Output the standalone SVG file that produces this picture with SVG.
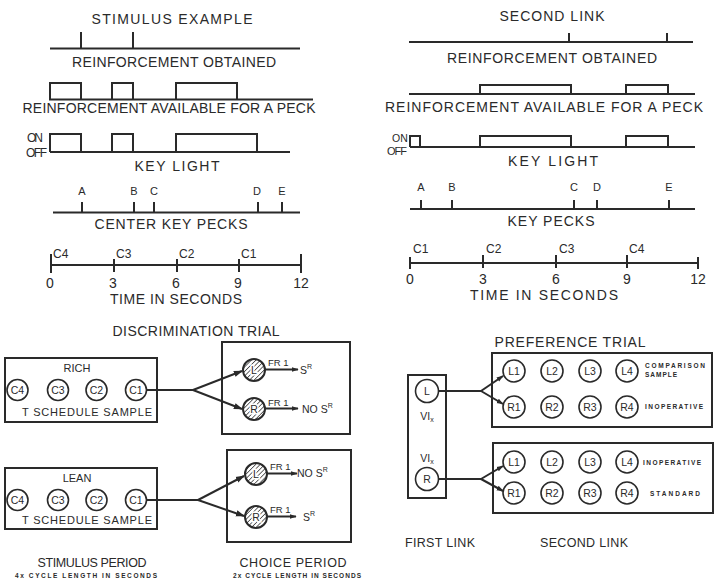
<svg xmlns="http://www.w3.org/2000/svg" width="714" height="582" viewBox="0 0 714 582">
<style>
text{font-family:"Liberation Sans","DejaVu Sans",sans-serif;fill:#2a2a2a}
.t{font-size:14px;text-anchor:middle}
.b{font-size:12.5px;text-anchor:middle}
.s{font-size:11px;text-anchor:middle}
.c{font-size:10.5px;text-anchor:middle}
.tiny{font-size:6.5px;font-weight:bold}
.ln{stroke:#2a2a2a;stroke-width:2;fill:none}
.cir{stroke:#2a2a2a;stroke-width:1.6;fill:#fff}
.hc{stroke:#2a2a2a;stroke-width:2;fill:url(#hatch)}
.halo{stroke:#fff;stroke-width:3;paint-order:stroke}
</style>
<defs>
<pattern id="hatch" patternUnits="userSpaceOnUse" width="3.2" height="3.2" patternTransform="rotate(45)">
<rect width="3.2" height="3.2" fill="#fff"/>
<line x1="0" y1="0" x2="0" y2="3.2" stroke="#3a3a3a" stroke-width="1.5"/>
</pattern>
<marker id="ah" viewBox="0 0 10 10" refX="9" refY="5" markerWidth="7" markerHeight="7" orient="auto" markerUnits="userSpaceOnUse">
<path d="M0,1.5 L10,5 L0,8.5 Z" fill="#2a2a2a"/>
</marker>
<marker id="ah2" viewBox="0 0 10 10" refX="9" refY="5" markerWidth="9" markerHeight="9" orient="auto" markerUnits="userSpaceOnUse">
<path d="M0,1.5 L10,5 L0,8.5 Z" fill="#2a2a2a"/>
</marker>
</defs>
<rect width="714" height="582" fill="#fff"/>

<!-- ===== Stimulus example (left timing) ===== -->
<g id="stimulus-example">
<text class="t" x="172" y="24" textLength="161">STIMULUS EXAMPLE</text>
<path class="ln" d="M50,48.5 H300 M81,48.5 V32 M133,48.5 V32"/>
<text class="t" x="174" y="67" textLength="204">REINFORCEMENT OBTAINED</text>
<path class="ln" d="M49,99.5 H313 M50,99.5 V83 H81 V99.5 M112,99.5 V83 H133 V99.5 M176,99.5 V83 H237 V99.5"/>
<text class="t" x="169" y="113" textLength="293">REINFORCEMENT AVAILABLE FOR A PECK</text>
<text x="27" y="142" font-size="12" textLength="16">ON</text>
<text x="26" y="157" font-size="12" textLength="21">OFF</text>
<path class="ln" d="M50,152 H290 M50,152 V134 H81 V152 M112,152 V134 H133 V152 M176,152 V134 H257 V152"/>
<text class="t" x="177" y="171" textLength="85">KEY LIGHT</text>
<path class="ln" d="M53,212.5 H300 M82,212.5 V202 M134,212.5 V202 M154,212.5 V202 M258,212.5 V202 M282,212.5 V202"/>
<text class="s" x="82" y="195" font-size="12">A</text>
<text class="s" x="134" y="195" font-size="12">B</text>
<text class="s" x="154" y="195" font-size="12">C</text>
<text class="s" x="257" y="195" font-size="12">D</text>
<text class="s" x="282" y="195" font-size="12">E</text>
<text class="t" x="171" y="229" textLength="153">CENTER KEY PECKS</text>
<path class="ln" d="M51,265 H301 M51,254 V273 M114,259 V272 M177,259 V272 M239,259 V272 M301,254 V273"/>
<text x="53" y="258" font-size="12">C4</text>
<text x="116" y="258" font-size="12">C3</text>
<text x="179" y="258" font-size="12">C2</text>
<text x="241" y="258" font-size="12">C1</text>
<text class="t" x="50" y="288">0</text>
<text class="t" x="113" y="288">3</text>
<text class="t" x="176" y="288">6</text>
<text class="t" x="238" y="288">9</text>
<text class="t" x="301" y="288">12</text>
<text class="t" x="176" y="304" textLength="132">TIME IN SECONDS</text>
</g>

<!-- ===== Second link (right timing) ===== -->
<g id="second-link-example">
<text class="t" x="552" y="21" textLength="105">SECOND LINK</text>
<path class="ln" d="M409,42 H693 M569,42 V33 M667,42 V33"/>
<text class="t" x="552" y="63" textLength="210">REINFORCEMENT OBTAINED</text>
<path class="ln" d="M409,94 H695 M480,94 V85 H571 V94 M626,94 V85 H668 V94"/>
<text class="t" x="544" y="112" textLength="318">REINFORCEMENT AVAILABLE FOR A PECK</text>
<text x="392" y="142" font-size="10.5">ON</text>
<text x="387" y="155" font-size="11" textLength="20">OFF</text>
<path class="ln" d="M410,147 H695 M410,147 V136 H420 V147 M480,147 V136 H571 V147 M626,147 V136 H668 V147"/>
<text class="t" x="553" y="166" textLength="90">KEY LIGHT</text>
<path class="ln" d="M410,209 H695 M421,209 V200 M452,209 V200 M574,209 V200 M597,209 V200 M669,209 V200"/>
<text class="s" x="421" y="191" font-size="12">A</text>
<text class="s" x="452" y="191" font-size="12">B</text>
<text class="s" x="574" y="191" font-size="12">C</text>
<text class="s" x="597" y="191" font-size="12">D</text>
<text class="s" x="669" y="191" font-size="12">E</text>
<text class="t" x="551" y="226" textLength="87">KEY PECKS</text>
<path class="ln" d="M410,263 H698 M410,257 V269 M483,255 V268 M556,255 V268 M627,255 V268 M698,257 V269"/>
<text x="413" y="253" font-size="12">C1</text>
<text x="486" y="253" font-size="12">C2</text>
<text x="559" y="253" font-size="12">C3</text>
<text x="629" y="253" font-size="12">C4</text>
<text class="t" x="410" y="284">0</text>
<text class="t" x="483" y="284">3</text>
<text class="t" x="556" y="284">6</text>
<text class="t" x="627" y="284">9</text>
<text class="t" x="698" y="284">12</text>
<text class="t" x="544" y="300" textLength="148">TIME IN SECONDS</text>
</g>

<!-- ===== Discrimination trial ===== -->
<text class="t" x="196" y="336" textLength="167">DISCRIMINATION TRIAL</text>

<g id="rich-stimulus">
<rect class="ln" x="5" y="358" width="152" height="64"/>
<text class="s" x="77" y="372">RICH</text>
<circle class="cir" cx="17.5" cy="390" r="10.5"/><text class="c" x="17.5" y="394">C4</text>
<circle class="cir" cx="58" cy="390" r="10.5"/><text class="c" x="58" y="394">C3</text>
<circle class="cir" cx="96.5" cy="390" r="10.5"/><text class="c" x="96.5" y="394">C2</text>
<circle class="cir" cx="136" cy="390" r="10.5"/><text class="c" x="136" y="394">C1</text>
<text class="s" x="87" y="416" textLength="130">T SCHEDULE SAMPLE</text>
</g>

<g id="rich-choice">
<rect class="ln" x="222" y="342" width="128" height="92"/>
<circle class="hc" cx="254" cy="370" r="11"/><text class="c halo" x="254" y="374">L</text>
<circle class="hc" cx="254" cy="409" r="11"/><text class="c halo" x="254" y="413">R</text>
<text x="268" y="366" font-size="9.5">FR 1</text>
<text x="268" y="406" font-size="9.5">FR 1</text>
<text x="300" y="374" font-size="10.5">S<tspan font-size="7" dy="-5">R</tspan></text>
<text x="302" y="413" font-size="10.5">NO S<tspan font-size="7" dy="-5">R</tspan></text>
</g>

<g id="lean-stimulus">
<rect class="ln" x="5" y="468" width="152" height="61"/>
<text class="s" x="77" y="482">LEAN</text>
<circle class="cir" cx="17.5" cy="500" r="10.5"/><text class="c" x="17.5" y="504">C4</text>
<circle class="cir" cx="58" cy="500" r="10.5"/><text class="c" x="58" y="504">C3</text>
<circle class="cir" cx="96.5" cy="500" r="10.5"/><text class="c" x="96.5" y="504">C2</text>
<circle class="cir" cx="136" cy="500" r="10.5"/><text class="c" x="136" y="504">C1</text>
<text class="s" x="87" y="524" textLength="130">T SCHEDULE SAMPLE</text>
</g>

<g id="lean-choice">
<rect class="ln" x="227" y="450" width="124" height="92"/>
<circle class="hc" cx="256" cy="474" r="11"/><text class="c halo" x="256" y="478">L</text>
<circle class="hc" cx="256" cy="517" r="11"/><text class="c halo" x="256" y="521">R</text>
<text x="270" y="470" font-size="9.5">FR 1</text>
<text x="270" y="513" font-size="9.5">FR 1</text>
<text x="297" y="477" font-size="10.5">NO S<tspan font-size="7" dy="-5">R</tspan></text>
<text x="303" y="521" font-size="10.5">S<tspan font-size="7" dy="-5">R</tspan></text>
</g>

<text class="b" x="92" y="567" textLength="109">STIMULUS PERIOD</text>
<text class="tiny" x="15" y="578" textLength="142">4x CYCLE LENGTH IN SECONDS</text>
<text class="b" x="293" y="567" textLength="107">CHOICE PERIOD</text>
<text class="tiny" x="233" y="578" textLength="128">2x CYCLE LENGTH IN SECONDS</text>

<!-- ===== Preference trial ===== -->
<text class="t" x="570" y="347" textLength="151">PREFERENCE TRIAL</text>

<g id="first-link">
<rect class="ln" x="408" y="375" width="38" height="123"/>
<circle class="cir" cx="427" cy="391" r="11.5"/><text class="c" x="427" y="395">L</text>
<text x="427" y="420" font-size="10.5" text-anchor="middle">VI<tspan font-size="7" dy="2">x</tspan></text>
<text x="427" y="462" font-size="10.5" text-anchor="middle">VI<tspan font-size="7" dy="2">x</tspan></text>
<circle class="cir" cx="427" cy="479" r="11.5"/><text class="c" x="427" y="483">R</text>
</g>

<g id="second-link-top">
<rect class="ln" x="492" y="353" width="220" height="74"/>
<circle class="cir" cx="514" cy="371" r="11"/><text class="c" x="514" y="375">L1</text>
<circle class="cir" cx="552" cy="371" r="11"/><text class="c" x="552" y="375">L2</text>
<circle class="cir" cx="590" cy="371" r="11"/><text class="c" x="590" y="375">L3</text>
<circle class="cir" cx="627" cy="371" r="11"/><text class="c" x="627" y="375">L4</text>
<circle class="cir" cx="514" cy="407" r="11"/><text class="c" x="514" y="411">R1</text>
<circle class="cir" cx="552" cy="407" r="11"/><text class="c" x="552" y="411">R2</text>
<circle class="cir" cx="590" cy="407" r="11"/><text class="c" x="590" y="411">R3</text>
<circle class="cir" cx="627" cy="407" r="11"/><text class="c" x="627" y="411">R4</text>
<text class="tiny" x="645" y="368" textLength="60">COMPARISON</text>
<text class="tiny" x="645" y="377" textLength="32">SAMPLE</text>
<text class="tiny" x="645" y="409" textLength="58">INOPERATIVE</text>
</g>

<g id="second-link-bottom">
<rect class="ln" x="493" y="443" width="220" height="70"/>
<circle class="cir" cx="514" cy="462" r="11"/><text class="c" x="514" y="466">L1</text>
<circle class="cir" cx="552" cy="462" r="11"/><text class="c" x="552" y="466">L2</text>
<circle class="cir" cx="590" cy="462" r="11"/><text class="c" x="590" y="466">L3</text>
<circle class="cir" cx="627" cy="462" r="11"/><text class="c" x="627" y="466">L4</text>
<circle class="cir" cx="514" cy="493" r="11"/><text class="c" x="514" y="497">R1</text>
<circle class="cir" cx="552" cy="493" r="11"/><text class="c" x="552" y="497">R2</text>
<circle class="cir" cx="590" cy="493" r="11"/><text class="c" x="590" y="497">R3</text>
<circle class="cir" cx="627" cy="493" r="11"/><text class="c" x="627" y="497">R4</text>
<text class="tiny" x="643" y="465" textLength="58">INOPERATIVE</text>
<text class="tiny" x="650" y="496" textLength="50">STANDARD</text>
</g>

<text class="b" x="440" y="547" textLength="70">FIRST LINK</text>
<text class="b" x="584" y="547" textLength="88">SECOND LINK</text>

<!-- ===== Connectors ===== -->
<g id="connectors" class="ln" stroke-width="1.6">
<path d="M146.5,390 H193"/>
<path d="M193,390 L242,371" marker-end="url(#ah2)"/>
<path d="M193,390 L242,409" marker-end="url(#ah2)"/>
<path d="M265,369.5 H298" marker-end="url(#ah)"/>
<path d="M265,408.5 H298" marker-end="url(#ah)"/>
<path d="M146.5,500 H198"/>
<path d="M198,500 L244,476" marker-end="url(#ah2)"/>
<path d="M198,500 L244,516" marker-end="url(#ah2)"/>
<path d="M267,473.5 H297" marker-end="url(#ah)"/>
<path d="M267,516.5 H296" marker-end="url(#ah)"/>
<path d="M438.5,391 H481"/>
<path d="M481,391 L503,376" marker-end="url(#ah)"/>
<path d="M481,391 L503,404" marker-end="url(#ah)"/>
<path d="M438.5,479 H481"/>
<path d="M481,479 L503,466" marker-end="url(#ah)"/>
<path d="M481,479 L503,491" marker-end="url(#ah)"/>
</g>
</svg>
